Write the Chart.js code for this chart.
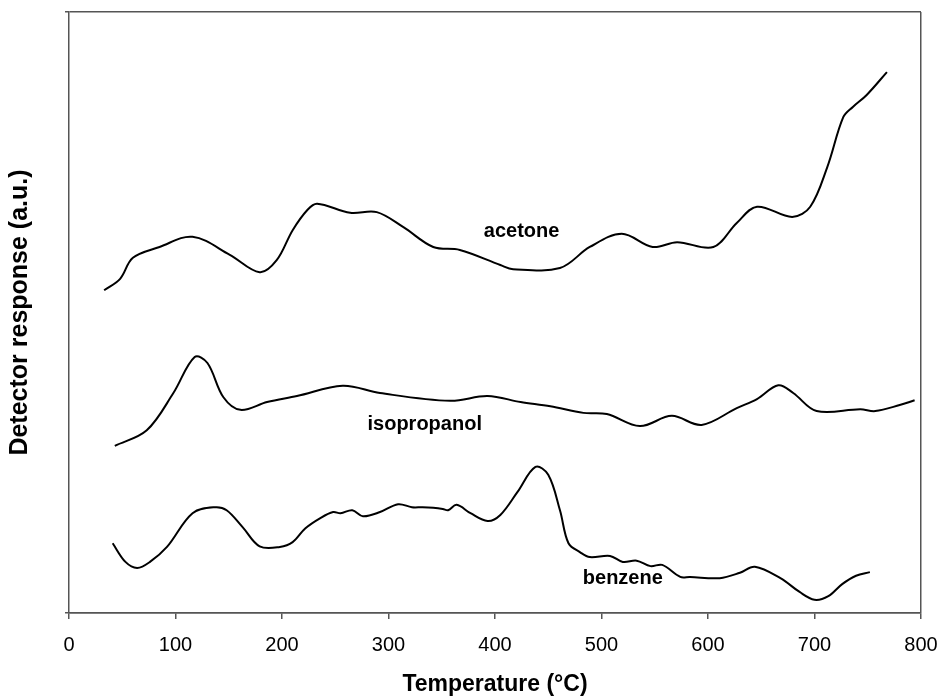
<!DOCTYPE html>
<html>
<head>
<meta charset="utf-8">
<title>Detector response vs temperature</title>
<script src="https://cdn.jsdelivr.net/npm/chart.js@4.4.1/dist/chart.umd.min.js"></script>
<style>
  html, body { margin: 0; padding: 0; background: #fff; }
  canvas { display: block; }
</style>
</head>
<body>
<canvas id="myChart" width="942" height="696"></canvas>
<script>
// Temperature (°C) and detector response (a.u., 0-100)
const acetoneTemp = [33, 48, 60, 85, 116, 151, 179, 195, 210, 224, 233, 264, 289, 314, 342, 367, 405, 417, 461, 489, 519, 548, 571, 605, 627, 646, 679, 696, 712, 727, 736, 749, 768];
const acetoneResp = [53.7, 55.6, 59.1, 60.9, 62.6, 59.6, 56.7, 58.7, 63.7, 67.1, 68.1, 66.6, 66.7, 64.2, 60.9, 60.4, 57.9, 57.2, 57.4, 60.9, 63.1, 60.9, 61.7, 60.9, 64.9, 67.6, 65.9, 67.6, 74.2, 82.5, 84.2, 86.2, 90.0];

const isopropanolTemp = [43, 73, 98, 118, 130, 145, 161, 186, 214, 257, 292, 358, 393, 424, 452, 483, 505, 536, 566, 594, 627, 646, 666, 680, 702, 743, 757, 780, 794];
const isopropanolResp = [27.8, 30.4, 36.6, 42.6, 41.6, 35.9, 33.8, 35.1, 36.1, 37.8, 36.6, 35.3, 36.1, 35.1, 34.4, 33.3, 33.1, 31.1, 32.8, 31.3, 34.1, 35.6, 37.9, 36.6, 33.6, 33.9, 33.6, 34.6, 35.4];

const benzeneTemp = [41, 53, 64, 76, 92, 116, 137, 148, 163, 179, 198, 210, 222, 236, 248, 255, 266, 276, 292, 309, 322, 332, 342, 351, 356, 364, 377, 393, 405, 421, 438, 450, 461, 469, 480, 489, 508, 520, 533, 546, 557, 574, 583, 611, 630, 644, 668, 686, 700, 713, 726, 739, 752];
const benzeneResp = [11.6, 8.5, 7.5, 8.5, 11.0, 16.6, 17.6, 17.1, 14.3, 11.1, 11.0, 11.8, 14.1, 15.8, 16.8, 16.6, 17.1, 16.1, 16.8, 18.1, 17.6, 17.6, 17.5, 17.3, 17.1, 18.0, 16.6, 15.3, 16.3, 20.1, 24.3, 23.0, 17.1, 11.6, 10.1, 9.3, 9.5, 8.5, 8.7, 7.8, 8.0, 6.0, 6.0, 5.8, 6.7, 7.7, 5.8, 3.5, 2.2, 2.8, 4.8, 6.2, 6.8];

const xTicks = [0, 100, 200, 300, 400, 500, 600, 700, 800];

const axisColor = '#555';
const fontFamily = '"Liberation Sans", Arial, Helvetica, sans-serif';

function toPoints(xs, ys) {
    return xs.map((x, i) => ({ x: x, y: ys[i] }));
}

// curve names written next to each trace, in data units
const curveNames = [
    { text: 'acetone', x: 425, y: 63.4 },
    { text: 'isopropanol', x: 334, y: 31.3 },
    { text: 'benzene', x: 520, y: 5.8 }
];

const curveLabels = {
    id: 'curveLabels',
    afterDatasetsDraw(chart) {
        const { ctx, scales: { x, y } } = chart;
        ctx.save();
        ctx.font = 'bold 20px ' + fontFamily;
        ctx.fillStyle = '#000';
        ctx.textAlign = 'center';
        ctx.textBaseline = 'middle';
        curveNames.forEach(l => {
            ctx.fillText(l.text, x.getPixelForValue(l.x), y.getPixelForValue(l.y));
        });
        ctx.restore();
    }
};

function lineSet(label, xs, ys) {
    return {
        label: label,
        data: toPoints(xs, ys),
        borderColor: '#000',
        borderWidth: 2,
        pointRadius: 0,
        fill: false,
        tension: 0.35
    };
}

const ctx = document.getElementById('myChart').getContext('2d');

const chart = new Chart(ctx, {
    type: 'line',
    data: {
        datasets: [
            lineSet('acetone', acetoneTemp, acetoneResp),
            lineSet('isopropanol', isopropanolTemp, isopropanolResp),
            lineSet('benzene', benzeneTemp, benzeneResp)
        ]
    },
    options: {
        responsive: false,
        animation: false,
        devicePixelRatio: 1,
        layout: {
            padding: { top: 12, right: 21, left: 0, bottom: 0 }
        },
        plugins: {
            legend: { display: false },
            tooltip: { enabled: false }
        },
        scales: {
            x: {
                type: 'linear',
                min: 0,
                max: 800,
                afterBuildTicks: (scale) => {
                    scale.ticks = xTicks.map(v => ({ value: v }));
                },
                afterFit: (scale) => {
                    scale.height = 83;
                    // keep the plot right edge where the original has it
                    scale.paddingLeft = 0;
                    scale.paddingRight = 0;
                },
                border: { display: true, color: axisColor, width: 1.5 },
                grid: {
                    drawOnChartArea: true,
                    color: (c) => (c.tick && c.tick.value === 800 ? axisColor : 'rgba(0,0,0,0)'),
                    tickColor: axisColor,
                    tickLength: 6,
                    lineWidth: 1.5
                },
                ticks: {
                    color: '#000',
                    padding: 14,
                    font: { family: fontFamily, size: 20 }
                },
                title: {
                    display: true,
                    text: 'Temperature (°C)',
                    color: '#000',
                    padding: { top: 0, bottom: 0 },
                    font: { family: fontFamily, size: 23, weight: 'bold', lineHeight: 1 }
                }
            },
            y: {
                type: 'linear',
                min: 0,
                max: 100,
                afterBuildTicks: (scale) => {
                    scale.ticks = [{ value: 0 }, { value: 100 }];
                },
                afterFit: (scale) => { scale.width = 69; },
                border: { display: true, color: axisColor, width: 1.5 },
                grid: {
                    drawOnChartArea: true,
                    color: axisColor,
                    tickColor: axisColor,
                    tickLength: 4,
                    lineWidth: 1.5
                },
                ticks: { display: false },
                title: {
                    display: true,
                    text: 'Detector response (a.u.)',
                    color: '#000',
                    padding: { top: 5, bottom: 0 },
                    font: { family: fontFamily, size: 25, weight: 'bold' }
                }
            }
        }
    },
    plugins: [curveLabels]
});
</script>
</body>
</html>
